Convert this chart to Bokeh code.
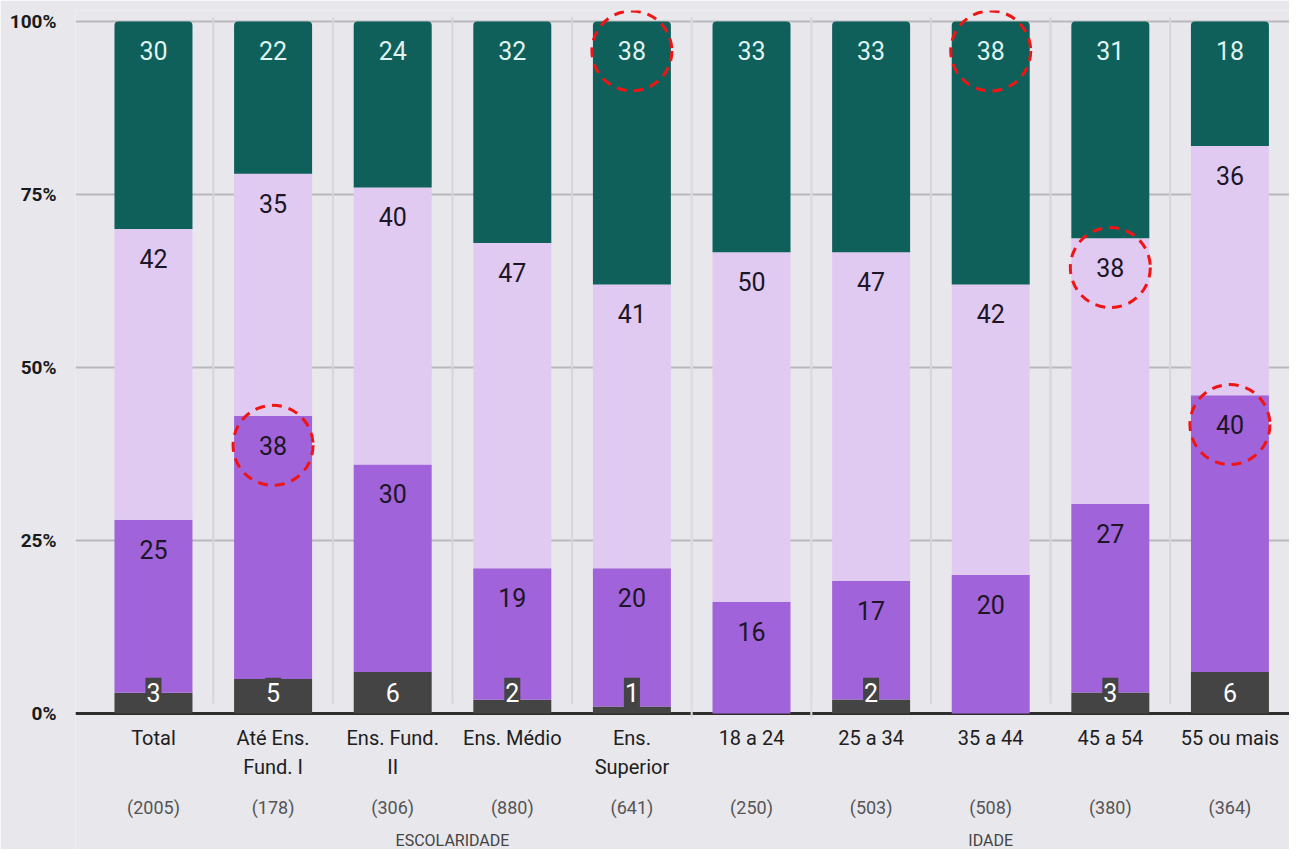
import numpy as np
from bokeh.plotting import figure
from bokeh.models import Range1d, FixedTicker, Span
from bokeh.core.properties import value
from bokeh.embed import file_html
from bokeh.resources import INLINE

# ---------------- data ----------------
categories = ["Total", "Até Ens.\nFund. I", "Ens. Fund.\nII", "Ens. Médio", "Ens.\nSuperior",
              "18 a 24", "25 a 34", "35 a 44", "45 a 54", "55 ou mais"]
sample_sizes = ["(2005)", "(178)", "(306)", "(880)", "(641)",
                "(250)", "(503)", "(508)", "(380)", "(364)"]
groups = ["ESCOLARIDADE", "IDADE"]
group_members = [[1, 2, 3, 4], [5, 6, 7, 8, 9]]

series_names = ["dark", "purple", "lavender", "teal"]
s_dark = [3, 5, 6, 2, 1, 0, 2, 0, 3, 6]
s_purple = [25, 38, 30, 19, 20, 16, 17, 20, 27, 40]
s_lavender = [42, 35, 40, 47, 41, 50, 47, 42, 38, 36]
s_teal = [30, 22, 24, 32, 38, 33, 33, 38, 31, 18]

highlights = [("Até Ens.\nFund. I", "purple"), ("Ens.\nSuperior", "teal"),
              ("35 a 44", "teal"), ("45 a 54", "lavender"), ("55 ou mais", "purple")]

y_ticks = [0, 25, 50, 75, 100]
y_tick_labels = ["0%", "25%", "50%", "75%", "100%"]

# ---------------- styles ----------------
BG = "#e8e7ec"
colors = {"dark": "#444444", "purple": "#a163d9", "lavender": "#e0caf1", "teal": "#0f5f5b"}
label_colors = {"dark": "#ffffff", "purple": "#1c1626", "lavender": "#1c1626", "teal": "#dff3f0"}
FONT = value("Roboto")

p = figure(width=1289, height=849, output_backend="svg", toolbar_location=None,
           x_range=Range1d(-0.652, 9.498), y_range=Range1d(-19.65, 101.59),
           x_axis_location=None,
           min_border_left=75, min_border_right=0, min_border_top=10, min_border_bottom=0,
           background_fill_color=BG, border_fill_color=BG, outline_line_color=None)

# axes / grid
p.xgrid.grid_line_color = None
p.yaxis.ticker = FixedTicker(ticks=y_ticks)
p.yaxis.major_label_overrides = {t: l for t, l in zip(y_ticks, y_tick_labels)}
p.yaxis.axis_line_color = None
p.yaxis.major_tick_line_color = None
p.yaxis.minor_tick_line_color = None
p.yaxis.major_label_standoff = 13
p.yaxis.major_label_text_font = "Roboto"
p.yaxis.major_label_text_font_size = "19px"
p.yaxis.major_label_text_font_style = "bold"
p.yaxis.major_label_text_color = "#1a1a1a"
p.ygrid.grid_line_color = "#b9b9bd"
p.ygrid.grid_line_width = 2

zero_line = Span(location=0, dimension="width", line_color="#2e2e2e", line_width=3, level="underlay")
p.add_layout(zero_line)

x = np.arange(len(categories))
mids = x[:-1] + 0.5
p.segment(x0=mids, y0=1.4, x1=mids, y1=100.6, line_color="#d6d6da", line_width=2)
sep = mids[[4, 5]]
p.segment(x0=sep, y0=-0.6, x1=sep, y1=100.6, line_color="#dcdce0", line_width=2)

# stacked, normalised to 100%
data = np.array([s_dark, s_purple, s_lavender, s_teal], dtype=float)
pct = data / data.sum(axis=0) * 100
tops = np.cumsum(pct, axis=0)
bottoms = tops - pct

BW = 0.652
for k, name in enumerate(series_names):
    kw = {}
    if name == "teal":
        kw["border_radius"] = (4, 4, 0, 0)
    p.vbar(x=x, bottom=bottoms[k], top=tops[k], width=BW,
           fill_color=colors[name], line_color=None, **kw)

# value labels
label_pos = {}
for k, name in enumerate(series_names):
    xs, ys, txt = [], [], []
    for i in range(len(categories)):
        v = data[k, i]
        if v <= 0:
            continue
        y = max(tops[k, i] - 4.25, 3.0)
        xs.append(i); ys.append(y); txt.append(str(int(v)))
        label_pos[(categories[i], name)] = (i, y)
    if name == "dark":
        p.rect(x=xs, y=ys, width=16, height=30, width_units="screen", height_units="screen",
               fill_color=colors["dark"], line_color=None)
    p.text(x=xs, y=ys, text=txt, text_align="center", text_baseline="middle",
           text_font=FONT, text_font_size="25px", text_color=label_colors[name])

# highlight circles
hx = [label_pos[h][0] for h in highlights]
hy = [label_pos[h][1] for h in highlights]
p.scatter(x=hx, y=hy, size=80, marker="circle", fill_color=None, line_color="#f01515",
          line_width=3, line_dash="10 7")

# category labels
line1 = [c.split("\n")[0] for c in categories]
line2 = [c.split("\n")[1] if "\n" in c else "" for c in categories]
p.text(x=x, y=[-3.6] * len(x), text=line1, text_align="center", text_baseline="middle",
       text_font=FONT, text_font_size="20px", text_color="#202020")
p.text(x=x, y=[-7.66] * len(x), text=line2, text_align="center", text_baseline="middle",
       text_font=FONT, text_font_size="20px", text_color="#202020")
p.text(x=x, y=[-13.58] * len(x), text=sample_sizes, text_align="center", text_baseline="middle",
       text_font=FONT, text_font_size="18px", text_color="#555555")
gx = [float(np.mean(m)) for m in group_members]
p.text(x=gx, y=[-18.3] * len(gx), text=groups, text_align="center", text_baseline="middle",
       text_font=FONT, text_font_size="16px", text_color="#444444")

open("out.html", "w").write(file_html(p, INLINE))
